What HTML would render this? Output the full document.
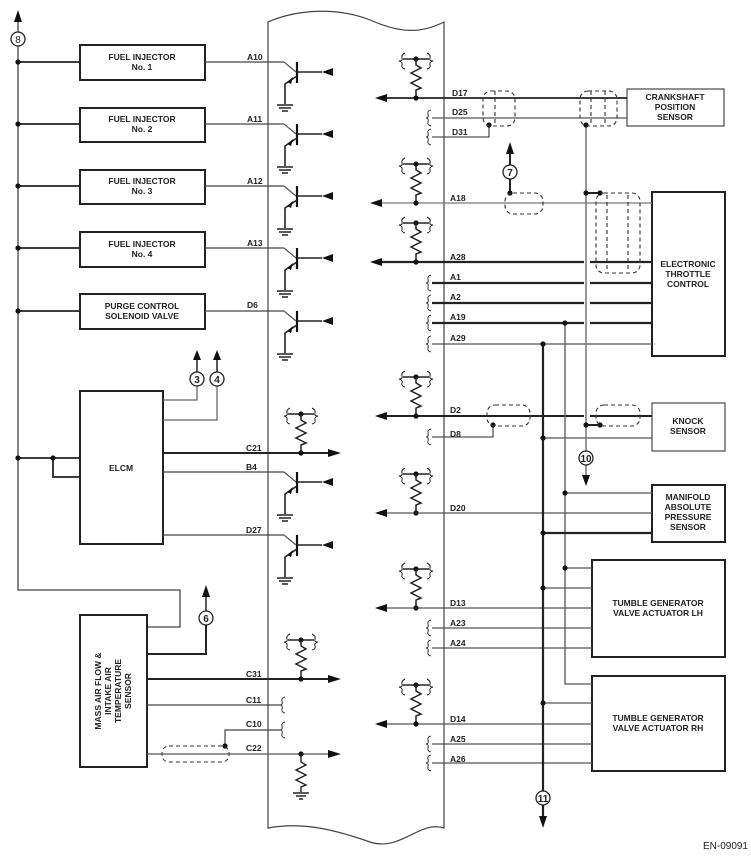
<!DOCTYPE html>
<html><head><meta charset="utf-8"><style>
html,body{margin:0;padding:0;background:#fff;}
svg{display:block;}
text{font-family:"Liberation Sans",Arial,sans-serif;font-weight:bold;fill:#222;}
.b{font-size:8.5px;}
.l{font-size:8.5px;}
</style></head><body>
<svg width="751" height="860" viewBox="0 0 751 860" xmlns="http://www.w3.org/2000/svg">
<defs>
 <g id="tr">
  <path d="M0,0 L12,10" stroke="#555" stroke-width="1.2" fill="none"/>
  <path d="M13,0 V21" stroke="#111" stroke-width="2.2"/>
  <path d="M13,10 H38" stroke="#222" stroke-width="1.6"/>
  <path d="M38,6 L49,10 L38,14Z" fill="#111" transform="translate(87,0) scale(-1,1)"/>
  <path d="M13,14 L1,22 V42" stroke="#222" stroke-width="1.6" fill="none"/>
  <path d="M3,20 L9,15 L7,22Z" fill="#111"/>
  <path d="M-7,43 H9 M-5,46 H7 M-2,49 H4" stroke="#222" stroke-width="1.4"/>
 </g>
 <g id="res">
  <path d="M-13,0 H13" stroke="#222" stroke-width="1.6"/>
  <path d="M-11,-6 q-4,2 -3,5 q1,3 -3,3 q4,1 3,4 q-1,3 3,4" stroke="#222" fill="none" stroke-width="1"/>
  <path d="M11,-6 q4,2 3,5 q-1,3 3,3 q-4,1 -3,4 q1,3 -3,4" stroke="#222" fill="none" stroke-width="1"/>
  <circle cx="0" cy="0" r="2.6" fill="#111"/>
  <path d="M0,0 V6 L5,9 L-5,14 L5,19 L-5,24 L5,29 L0,31 V39" stroke="#222" fill="none" stroke-width="1.5"/>
  <circle cx="0" cy="39" r="2.6" fill="#111"/>
 </g>
 <g id="br"><path d="M3,-8 q-4,1 -3,4 q1,4 -2,4 q3,0 2,4 q-1,3 3,4" stroke="#333" fill="none" stroke-width="1"/></g>
 <g id="gnd"><path d="M-8,0 H8 M-5,3 H5 M-2,6 H2" stroke="#222" stroke-width="1.4"/></g>
</defs>

<!-- ECM body -->
<path d="M268,22 C300,8 340,8 370,20 C400,33 420,34 444,22 V828 C420,820 400,852 370,842 C330,828 300,822 268,828 Z" fill="none" stroke="#444" stroke-width="1.2"/>

<!-- left bus -->
<path d="M18,18 V590 H180 V627 H147" stroke="#444" stroke-width="1.3" fill="none"/>
<path d="M14,22 L18,10 L22,22Z" fill="#111"/>
<circle cx="18" cy="39" r="7" fill="#fff" stroke="#222" stroke-width="1.3"/>
<text x="18" y="43" font-size="10" text-anchor="middle" style="font-weight:normal">8</text>

<g stroke="#222" stroke-width="2" fill="none">
 <rect x="80" y="45" width="125" height="35"/>
 <rect x="80" y="108" width="125" height="34"/>
 <rect x="80" y="170" width="125" height="34"/>
 <rect x="80" y="232" width="125" height="35"/>
 <rect x="80" y="294" width="125" height="35"/>
 <rect x="80" y="391" width="83" height="153"/>
 <rect x="80" y="615" width="67" height="152"/>
 <rect x="627" y="89" width="97" height="37" stroke="#555" stroke-width="1.3"/>
 <rect x="652" y="192" width="73" height="164"/>
 <rect x="652" y="403" width="73" height="48" stroke="#555" stroke-width="1.3"/>
 <rect x="652" y="485" width="73" height="57"/>
 <rect x="592" y="560" width="133" height="97"/>
 <rect x="592" y="676" width="133" height="95"/>
</g>
<g stroke="#222" stroke-width="1.8" fill="none">
 <path d="M18,62 H80 M18,124 H80 M18,186 H80 M18,248 H80 M18,311 H80"/>
 <path d="M18,458 H80 M53,458 V477 H80"/>
</g>
<g fill="#111">
 <circle cx="18" cy="62" r="2.6"/><circle cx="18" cy="124" r="2.6"/><circle cx="18" cy="186" r="2.6"/>
 <circle cx="18" cy="248" r="2.6"/><circle cx="18" cy="311" r="2.6"/><circle cx="18" cy="458" r="2.6"/>
 <circle cx="53" cy="458" r="2.6"/>
</g>
<text class="b" x="142" y="60" text-anchor="middle">FUEL INJECTOR</text><text class="b" x="142" y="70" text-anchor="middle">No. 1</text>
<text class="b" x="142" y="122" text-anchor="middle">FUEL INJECTOR</text><text class="b" x="142" y="132" text-anchor="middle">No. 2</text>
<text class="b" x="142" y="184" text-anchor="middle">FUEL INJECTOR</text><text class="b" x="142" y="194" text-anchor="middle">No. 3</text>
<text class="b" x="142" y="247" text-anchor="middle">FUEL INJECTOR</text><text class="b" x="142" y="257" text-anchor="middle">No. 4</text>
<text class="b" x="142" y="309" text-anchor="middle">PURGE CONTROL</text><text class="b" x="142" y="319" text-anchor="middle">SOLENOID VALVE</text>
<text class="b" x="121" y="471" text-anchor="middle">ELCM</text>

<g stroke="#444" stroke-width="1.2">
 <path d="M205,62 H284 M205,124 H284 M205,186 H284 M205,248 H284 M205,311 H284 M163,472 H284 M163,535 H284"/>
</g>
<use href="#tr" x="284" y="62"/><use href="#tr" x="284" y="124"/><use href="#tr" x="284" y="186"/>
<use href="#tr" x="284" y="248"/><use href="#tr" x="284" y="311"/><use href="#tr" x="284" y="472"/><use href="#tr" x="284" y="535"/>
<g class="l">
 <text x="247" y="60">A10</text><text x="247" y="122">A11</text><text x="247" y="184">A12</text>
 <text x="247" y="246">A13</text><text x="247" y="308">D6</text>
 <text x="246" y="451">C21</text><text x="246" y="470">B4</text><text x="246" y="533">D27</text>
 <text x="246" y="677">C31</text><text x="246" y="703">C11</text><text x="246" y="727">C10</text><text x="246" y="751">C22</text>
</g>

<path d="M163,400 H197 V385 M163,420 H217 V385" stroke="#666" stroke-width="1.3" fill="none"/>
<path d="M197,373 V358 M217,373 V358" stroke="#222" stroke-width="1.5"/>
<path d="M193,360 L197,350 L201,360Z M213,360 L217,350 L221,360Z" fill="#111"/>
<circle cx="197" cy="379" r="7" fill="#fff" stroke="#222" stroke-width="1.3"/>
<circle cx="217" cy="379" r="7" fill="#fff" stroke="#222" stroke-width="1.3"/>
<text x="197" y="383" font-size="10" text-anchor="middle">3</text>
<text x="217" y="383" font-size="10" text-anchor="middle">4</text>

<path d="M163,453 H330" stroke="#222" stroke-width="2"/>
<path d="M328,449 L341,453 L328,457Z" fill="#111"/>
<use href="#res" x="301" y="414"/>

<text transform="translate(101,691) rotate(-90)" class="b" text-anchor="middle">MASS AIR FLOW &amp;</text>
<text transform="translate(111,691) rotate(-90)" class="b" text-anchor="middle">INTAKE AIR</text>
<text transform="translate(121,691) rotate(-90)" class="b" text-anchor="middle">TEMPERATURE</text>
<text transform="translate(131,691) rotate(-90)" class="b" text-anchor="middle">SENSOR</text>
<path d="M147,654 H206 V625" stroke="#222" stroke-width="2" fill="none"/>
<path d="M206,611 V595" stroke="#222" stroke-width="1.5"/>
<path d="M202,597 L206,585 L210,597Z" fill="#111"/>
<circle cx="206" cy="618" r="7" fill="#fff" stroke="#222" stroke-width="1.3"/>
<text x="206" y="622" font-size="10" text-anchor="middle">6</text>
<path d="M147,679 H330" stroke="#222" stroke-width="2"/>
<path d="M328,675 L341,679 L328,683Z" fill="#111"/>
<use href="#res" x="301" y="640"/>
<path d="M147,705 H280 M225,746 V730 H280" stroke="#444" stroke-width="1.2" fill="none"/>
<use href="#br" x="282" y="705"/><use href="#br" x="282" y="730"/>
<path d="M147,754 H330" stroke="#555" stroke-width="1.3"/>
<path d="M328,750 L341,754 L328,758Z" fill="#111"/>
<circle cx="225" cy="746" r="2.6" fill="#111"/>
<rect x="162" y="746" width="67" height="16" rx="7" fill="none" stroke="#333" stroke-dasharray="4,3"/>
<circle cx="301" cy="754" r="2.6" fill="#111"/>
<path d="M301,754 V762 L306,765 L296,770 L306,775 L296,780 L306,785 L301,787 V792" stroke="#222" fill="none" stroke-width="1.4"/>
<use href="#gnd" x="301" y="793"/>

<g stroke="#222" stroke-width="1.8">
 <path d="M385,98 H627" /><path d="M380,203 H652" stroke="#777" stroke-width="1.3"/>
 <path d="M380,262 H584 M590,262 H652" stroke-width="2.2"/>
 <path d="M385,416 H584 M590,416 H652" stroke-width="2"/>
 <path d="M385,513 H652" stroke="#555" stroke-width="1.3"/>
 <path d="M385,608 H592" stroke="#555" stroke-width="1.3"/>
 <path d="M385,724 H592" stroke="#555" stroke-width="1.3"/>
</g>
<g fill="#111">
 <path d="M387,94 L375,98 L387,102Z"/><path d="M382,199 L370,203 L382,207Z"/><path d="M382,258 L370,262 L382,266Z"/>
 <path d="M387,412 L375,416 L387,420Z"/><path d="M387,509 L375,513 L387,517Z"/><path d="M387,604 L375,608 L387,612Z"/>
 <path d="M387,720 L375,724 L387,728Z"/>
</g>
<use href="#res" x="416" y="59"/><use href="#res" x="416" y="164"/><use href="#res" x="416" y="223"/>
<use href="#res" x="416" y="377"/><use href="#res" x="416" y="474"/><use href="#res" x="416" y="569"/><use href="#res" x="416" y="685"/>

<g stroke="#555" stroke-width="1.3" fill="none">
 <path d="M432,118 H627"/>
 <path d="M432,137 H489 V125"/>
 <path d="M432,344 H652"/>
 <path d="M432,437 H493 V425"/>
 <path d="M543,438 H652"/>
 <path d="M565,493 H652"/>
 <path d="M432,628 H592 M432,648 H592 M432,744 H592 M432,763 H592"/>
 <path d="M565,568 H592 M543,588 H592 M543,703 H592"/>
 <path d="M565,323 V684 H592"/>
</g>
<g stroke="#222" stroke-width="2.2" fill="none">
 <path d="M432,283 H584 M590,283 H652"/>
 <path d="M432,303 H584 M590,303 H652"/>
 <path d="M432,323 H584 M590,323 H652"/>
 <path d="M543,533 H652"/>
 <path d="M543,344 V818"/>
</g>
<path d="M539,816 L543,828 L547,816Z" fill="#111"/>
<circle cx="543" cy="798" r="7" fill="#fff" stroke="#222" stroke-width="1.3"/>
<text x="543" y="802" font-size="10" text-anchor="middle">11</text>
<path d="M586,125 V451 M586,465 V476" stroke="#777" stroke-width="1.5" fill="none"/>
<path d="M582,475 L586,486 L590,475Z" fill="#111"/>
<circle cx="586" cy="458" r="7" fill="#fff" stroke="#222" stroke-width="1.3"/>
<text x="586" y="462" font-size="10" text-anchor="middle">10</text>
<path d="M586,193 H600 M586,425 H600" stroke="#222" stroke-width="2"/>
<path d="M510,193 V179 M510,165 V152" stroke="#222" stroke-width="2"/>
<path d="M506,154 L510,142 L514,154Z" fill="#111"/>
<circle cx="510" cy="172" r="7" fill="#fff" stroke="#222" stroke-width="1.3"/>
<text x="510" y="176" font-size="10" text-anchor="middle">7</text>
<g fill="#111">
 <circle cx="489" cy="125" r="2.6"/><circle cx="586" cy="125" r="2.6"/><circle cx="586" cy="193" r="2.6"/><circle cx="600" cy="193" r="2.6"/>
 <circle cx="510" cy="193" r="2.6"/><circle cx="565" cy="323" r="2.6"/><circle cx="543" cy="344" r="2.6"/>
 <circle cx="493" cy="425" r="2.6"/><circle cx="586" cy="425" r="2.6"/><circle cx="600" cy="425" r="2.6"/><circle cx="543" cy="438" r="2.6"/>
 <circle cx="565" cy="493" r="2.6"/><circle cx="543" cy="533" r="2.6"/><circle cx="565" cy="568" r="2.6"/><circle cx="543" cy="588" r="2.6"/>
 <circle cx="543" cy="703" r="2.6"/>
</g>
<g fill="none" stroke="#333" stroke-dasharray="4,3" stroke-width="1.1">
 <rect x="483" y="91" width="32" height="35" rx="8"/><path d="M495,91 V126"/>
 <rect x="580" y="91" width="37" height="35" rx="8"/><path d="M591,91 V126 M605,91 V126"/>
 <rect x="505" y="193" width="38" height="21" rx="8"/>
 <rect x="596" y="193" width="44" height="80" rx="8"/><path d="M607,195 V270 M628,195 V270"/>
 <rect x="487" y="405" width="43" height="21" rx="8"/>
 <rect x="596" y="405" width="44" height="21" rx="8"/>
</g>
<use href="#br" x="428" y="118"/><use href="#br" x="428" y="137"/>
<use href="#br" x="428" y="283"/><use href="#br" x="428" y="303"/><use href="#br" x="428" y="323"/><use href="#br" x="428" y="344"/>
<use href="#br" x="428" y="437"/><use href="#br" x="428" y="628"/><use href="#br" x="428" y="648"/>
<use href="#br" x="428" y="744"/><use href="#br" x="428" y="763"/>
<g class="l">
 <text x="452" y="96">D17</text><text x="452" y="115">D25</text><text x="452" y="135">D31</text>
 <text x="450" y="201">A18</text><text x="450" y="260">A28</text><text x="450" y="280">A1</text><text x="450" y="300">A2</text>
 <text x="450" y="320">A19</text><text x="450" y="341">A29</text><text x="450" y="413">D2</text><text x="450" y="437">D8</text>
 <text x="450" y="511">D20</text><text x="450" y="606">D13</text><text x="450" y="626">A23</text><text x="450" y="646">A24</text>
 <text x="450" y="722">D14</text><text x="450" y="742">A25</text><text x="450" y="762">A26</text>
</g>
<g class="b" text-anchor="middle">
 <text x="675" y="100">CRANKSHAFT</text><text x="675" y="110">POSITION</text><text x="675" y="120">SENSOR</text>
 <text x="688" y="267">ELECTRONIC</text><text x="688" y="277">THROTTLE</text><text x="688" y="287">CONTROL</text>
 <text x="688" y="424">KNOCK</text><text x="688" y="434">SENSOR</text>
 <text x="688" y="500">MANIFOLD</text><text x="688" y="510">ABSOLUTE</text><text x="688" y="520">PRESSURE</text><text x="688" y="530">SENSOR</text>
 <text x="658" y="606">TUMBLE GENERATOR</text><text x="658" y="616">VALVE ACTUATOR LH</text>
 <text x="658" y="721">TUMBLE GENERATOR</text><text x="658" y="731">VALVE ACTUATOR RH</text>
</g>
<text x="748" y="849" font-size="10" text-anchor="end" style="font-weight:normal">EN-09091</text>
</svg>
</body></html>
